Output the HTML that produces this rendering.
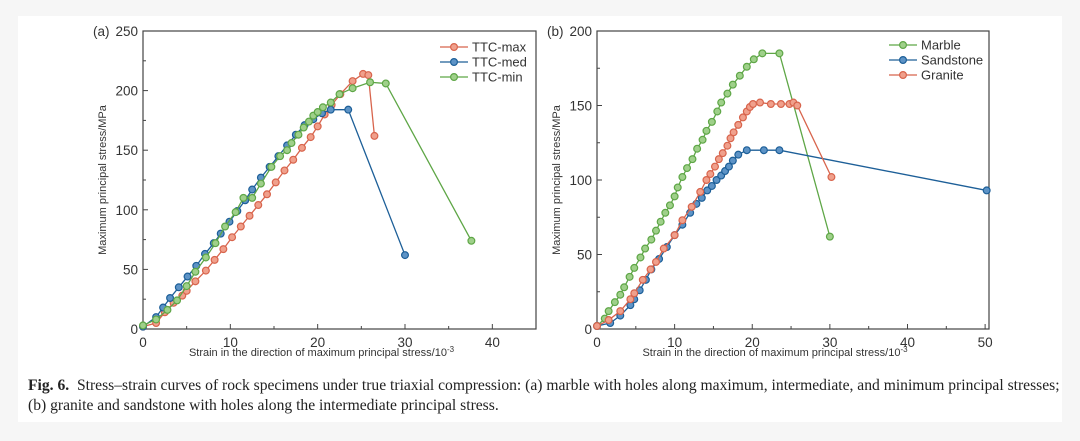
<!DOCTYPE html>
<html><head><meta charset="utf-8"><style>
html,body{margin:0;padding:0;background:#f6f6f6;}
#wrap{position:relative;width:1080px;height:441px;overflow:hidden;}
#card{position:absolute;left:18px;top:16px;width:1044px;height:406px;background:#fff;}
svg text{font-family:"Liberation Sans",sans-serif;fill:#333;}
#cap{position:absolute;left:28px;top:376px;font-family:"Liberation Serif",serif;font-size:15.6px;line-height:19.5px;color:#222;white-space:nowrap;}
</style></head><body>
<div id="wrap">
<div id="card"></div>
<svg id="chart" width="1080" height="441" style="position:absolute;left:0;top:0"></svg>
<div id="cap"><b>Fig. 6.</b>&nbsp; Stress–strain curves of rock specimens under true triaxial compression: (a) marble with holes along maximum, intermediate, and minimum principal stresses;<br>(b) granite and sandstone with holes along the intermediate principal stress.</div>
</div>
<script>
const aMaxX=[0,1.5,2.5,3.5,4.5,5,6,7.2,8.2,9.2,10.2,11.2,12.2,13.2,14.2,15.2,16.2,17.2,18.2,19.2,20,20.8,21.6,22.6,24,25.2,25.8,26.5];
const aMaxY=[2,5,14,22,28,32,40,49,58,67,77,86,95,104,113,123,133,142,152,161,170,180,188,197,208,214,213,162];
const aMedX=[0,1.5,2.3,3.1,4.1,5.1,6.1,7.1,8.1,8.9,9.9,10.8,11.7,12.5,13.5,14.5,15.5,16.5,17.5,18.5,19.5,20.5,21.5,23.5,30];
const aMedY=[2,10,18,26,35,44,53,63,72,80,90,99,108,117,127,136,145,154,163,171,176,181,184,184,62];
const aMinX=[0,1.5,2.8,3.9,5,6,7.2,8.3,9.4,10.6,11.5,12.5,13.5,14.7,15.7,16.5,17,17.8,18.4,19,19.5,20,20.6,21.5,22.5,24,26,27.8,37.6];
const aMinY=[3,8,16,24,36,48,60,72,86,98,110,110,122,136,145,150,156,163,169,174,179,182,186,190,197,202,207,206,74];
const bMarX=[0,1,1.5,2.3,3,3.5,4.2,4.8,5.6,6.2,7,7.6,8.2,8.8,9.4,10,10.4,11,11.6,12.3,12.9,13.6,14.1,14.8,15.5,16,16.8,17.5,18.4,19.3,20.2,21.3,23.5,30];
const bMarY=[2,7,12,18,23,28,35,41,48,54,60,66,72,78,83,89,95,102,108,114,121,127,133,139,146,152,158,164,170,176,181,185,185,62];
const bSanX=[0,1.7,3,4.3,4.8,5.5,6.3,7,8,9,10,11,12,12.8,13.5,14.2,14.8,15.4,16,16.5,17,17.5,18.2,19.3,21.5,23.5,50.2];
const bSanY=[2,4,9,16,20,26,33,40,47,55,63,70,78,84,88,93,96,100,103,106,109,113,117,120,120,120,93];
const bGraX=[0,1.5,3,4.3,4.8,5.9,6.9,7.6,8.6,10,11,12.2,13.3,14.1,14.6,15.2,15.7,16.2,16.8,17.2,17.6,18.2,18.8,19.3,19.7,20.1,21,22.4,23.7,24.8,25.3,25.8,30.2];
const bGraY=[2,6,12,20,24,33,40,45,54,63,73,82,92,100,104,109,114,118,123,128,132,137,142,146,149,151,152,151,151,151,152,150,102];
const aXTicks=[0,10,20,30,40], aYTicks=[0,50,100,150,200,250];
const bXTicks=[0,10,20,30,40,50], bYTicks=[0,50,100,150,200];
const aNames=["TTC-max","TTC-med","TTC-min"], bNames=["Marble","Sandstone","Granite"];
const RED="#d8644c",BLUE="#1d5f98",GREEN="#5ea646";
const RF="#f0a08c",BF="#5d93c6",GF="#9fd08a";
const NS="http://www.w3.org/2000/svg";
const svg=document.getElementById('chart');
function mk(t,a,p){const e=document.createElementNS(NS,t);for(const k in a)e.setAttribute(k,a[k]);(p||svg).appendChild(e);return e;}
function panel(o){
 const g=mk('g',{});
 
 
 const sx=v=>o.x0+(v-o.xmin)/(o.xmax-o.xmin)*(o.x1-o.x0);
 const sy=v=>o.y0-(v)/(o.ymax)*(o.y0-o.y1);
 const fr=mk('rect',{x:o.x0,y:o.y1,width:o.x1-o.x0,height:o.y0-o.y1,fill:'none',stroke:'#444','stroke-width':1.2},g);
 
 
 o.xt.forEach(v=>{mk('line',{x1:sx(v),x2:sx(v),y1:o.y0,y2:o.y0-5,stroke:'#444'},g);
  const t=mk('text',{x:sx(v),y:o.y0+18,'text-anchor':'middle','font-size':13.5},g);t.textContent=v;
  
  
  const m=v+o.xstep/2; if(m<o.xmax) mk('line',{x1:sx(m),x2:sx(m),y1:o.y0,y2:o.y0-3,stroke:'#444'},g);});
 o.yt.forEach(v=>{mk('line',{x1:o.x0,x2:o.x0+5,y1:sy(v),y2:sy(v),stroke:'#444'},g);
  const t=mk('text',{x:o.x0-5,y:sy(v)+5,'text-anchor':'end','font-size':13.5},g);t.textContent=v;
  
  
  const m=v+25; if(m<o.ymax) mk('line',{x1:o.x0,x2:o.x0+3,y1:sy(m),y2:sy(m),stroke:'#444'},g);});
 const pl=mk('text',{x:o.x0-50,y:o.y1+5,'font-size':13.5},g);pl.textContent=o.label;
 
 
 const xt=mk('text',{x:(o.x0+o.x1)/2-18,y:o.y0+27,'text-anchor':'middle','font-size':11},g);
 xt.innerHTML='Strain in the direction of maximum principal stress/10<tspan dy="-4" font-size="8">-3</tspan>';
 
 
 const yt=mk('text',{x:0,y:0,'text-anchor':'middle','font-size':11,transform:`translate(${o.x0-37},${(o.y0+o.y1)/2}) rotate(-90)`},g);
 yt.textContent='Maximum principal stress/MPa';
 
 
 o.series.forEach((s,i)=>{
  const sg=mk('g',{},g);
  
  
  mk('polyline',{points:s.x.map((v,j)=>sx(v)+','+sy(s.y[j])).join(' '),fill:'none',stroke:s.c,'stroke-width':1.3},sg);
  s.x.forEach((v,j)=>{const c=mk('circle',{cx:sx(v),cy:sy(s.y[j]),r:3.4,fill:s.f,stroke:s.c,'stroke-width':1.2},sg);
   
   });
  const ly=o.legY+i*15;
  const lg=mk('g',{},g);
  
  
  mk('line',{x1:o.legX,x2:o.legX+28,y1:ly,y2:ly,stroke:s.c,'stroke-width':1.3},lg);
  mk('circle',{cx:o.legX+14,cy:ly,r:3.4,fill:s.f,stroke:s.c,'stroke-width':1.2},lg);
  const lt=mk('text',{x:o.legX+32,y:ly+4.5,'font-size':13},lg);lt.textContent=s.n;
 });
}
panel({name:'chart-a',label:'(a)',x0:143,x1:536,y0:329,y1:31,xmin:0,xmax:45,ymax:250,xstep:10,xt:aXTicks,yt:aYTicks,legX:440,legY:47,
 series:[{n:aNames[0],x:aMaxX,y:aMaxY,c:RED,f:RF},{n:aNames[1],x:aMedX,y:aMedY,c:BLUE,f:BF},{n:aNames[2],x:aMinX,y:aMinY,c:GREEN,f:GF}]});
panel({name:'chart-b',label:'(b)',x0:597,x1:989,y0:329,y1:31,xmin:0,xmax:50.5,ymax:200,xstep:10,xt:bXTicks,yt:bYTicks,legX:889,legY:45,
 series:[{n:bNames[0],x:bMarX,y:bMarY,c:GREEN,f:GF},{n:bNames[1],x:bSanX,y:bSanY,c:BLUE,f:BF},{n:bNames[2],x:bGraX,y:bGraY,c:RED,f:RF}]});
</script>
</body></html>
